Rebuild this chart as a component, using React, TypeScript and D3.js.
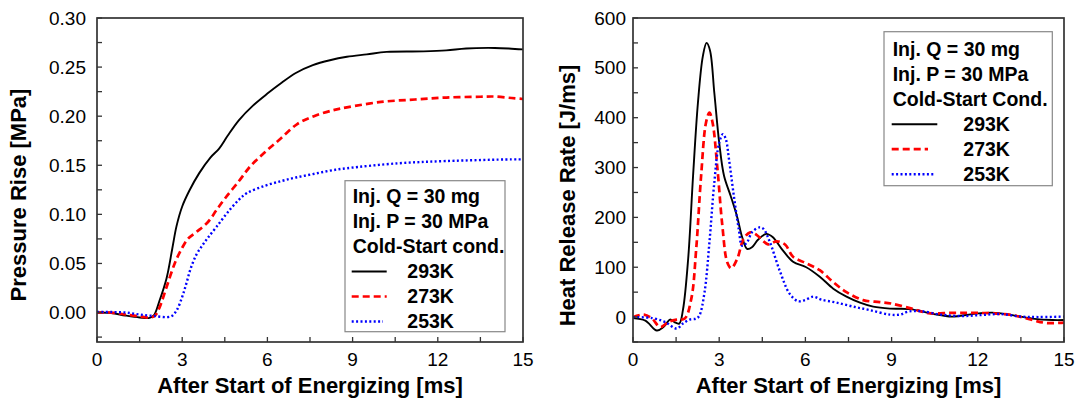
import React from 'react';
import * as d3 from 'd3';

type Pt = [number, number];

const timeTicks = [0, 3, 6, 9, 12, 15];
const timeMinorTicks = [1.5, 4.5, 7.5, 10.5, 13.5];
const pressureTicks = [0, 0.05, 0.1, 0.15, 0.2, 0.25, 0.3];
const pressureMinorTicks = [-0.025, 0.025, 0.075, 0.125, 0.175, 0.225, 0.275];
const hrrTicks = [0, 100, 200, 300, 400, 500, 600];
const hrrMinorTicks = [-50, 50, 150, 250, 350, 450, 550];

const seriesNames = ['293K', '273K', '253K'];
const leftNotes = ['Inj. Q = 30 mg', 'Inj. P = 30 MPa', 'Cold-Start cond.'];
const rightNotes = ['Inj. Q = 30 mg', 'Inj. P = 30 MPa', 'Cold-Start Cond.'];

const pressure293: Pt[] = [
  [0, 0], [0.5, -0.0005], [1.0, -0.003], [1.5, -0.005], [1.85, -0.0055], [2.0, -0.003],
  [2.2, 0.012], [2.45, 0.035], [2.65, 0.065], [2.8, 0.088], [3.0, 0.108], [3.25, 0.124],
  [3.6, 0.142], [4.0, 0.158], [4.3, 0.167], [4.6, 0.18], [5.0, 0.196], [5.5, 0.211],
  [6.0, 0.223], [6.5, 0.234], [7.0, 0.244], [7.6, 0.252], [8.2, 0.257], [8.8, 0.2605],
  [9.5, 0.263], [10.2, 0.2655], [11.5, 0.266], [12.3, 0.267], [13.0, 0.269], [14.0, 0.2695],
  [14.5, 0.269], [15.0, 0.268],
];
const pressure273: Pt[] = [
  [0, 0], [0.5, 0], [1.0, -0.002], [1.5, -0.004], [1.9, -0.005], [2.05, -0.003],
  [2.2, 0.005], [2.45, 0.026], [2.75, 0.051], [3.0, 0.066], [3.2, 0.075], [3.5, 0.082],
  [3.9, 0.092], [4.2, 0.104], [4.5, 0.116], [5.0, 0.134], [5.4, 0.149], [5.9, 0.163],
  [6.46, 0.177], [7.05, 0.192], [7.64, 0.2], [8.3, 0.206], [8.8, 0.209], [10.0, 0.2145],
  [11.2, 0.217], [12.3, 0.219], [13.5, 0.2198], [14.0, 0.22], [14.6, 0.2185], [15.0, 0.2175],
];
const pressure253: Pt[] = [
  [0, 0.0005], [0.5, 0.0005], [1.0, 0], [1.5, -0.002], [2.0, -0.0035], [2.6, -0.004],
  [2.8, 0.002], [3.0, 0.016], [3.15, 0.03], [3.3, 0.045], [3.5, 0.059], [3.7, 0.068],
  [3.9, 0.076], [4.2, 0.087], [4.6, 0.102], [5.0, 0.115], [5.3, 0.122], [5.9, 0.129],
  [6.5, 0.134], [7.0, 0.1375], [7.6, 0.141], [8.2, 0.1445], [8.8, 0.147], [10.6, 0.152],
  [12.3, 0.1543], [14.6, 0.156], [15.0, 0.156],
];

const hrr293: Pt[] = [
  [0, -2], [0.43, -7], [0.83, -27], [1.06, -20], [1.29, -5], [1.44, -10], [1.61, -13],
  [1.74, 15], [1.92, 117], [2.09, 283], [2.26, 430], [2.43, 523], [2.56, 550], [2.68, 535],
  [2.83, 450], [3.0, 350], [3.17, 283], [3.4, 243], [3.63, 200], [3.8, 160], [3.97, 137],
  [4.14, 140], [4.35, 155], [4.64, 167], [4.87, 160], [5.16, 138], [5.57, 111], [6.03, 100],
  [6.5, 81], [6.97, 57], [7.43, 41], [7.9, 29], [8.36, 21], [8.94, 17], [9.64, 16],
  [10.4, 7], [11.1, 1], [11.8, 6], [12.5, 9], [13.2, 4], [13.9, -3], [14.6, -6], [15.0, -6],
];
const hrr273: Pt[] = [
  [0, 0], [0.38, 5], [0.66, -3], [0.95, -20], [1.23, -10], [1.52, -5], [1.8, -3],
  [2.03, 37], [2.2, 137], [2.37, 283], [2.54, 390], [2.66, 410], [2.77, 390], [2.94, 297],
  [3.11, 183], [3.28, 110], [3.42, 98], [3.63, 117], [3.85, 157], [4.08, 170], [4.3, 165],
  [4.7, 146], [5.0, 152], [5.3, 145], [5.57, 121], [6.03, 108], [6.5, 94], [6.97, 70],
  [7.43, 50], [8.01, 34], [8.59, 30], [9.0, 27], [9.7, 17], [10.28, 8], [11.1, 8.5],
  [11.8, 8.5], [12.5, 7.5], [13.2, 4], [13.9, -6], [14.4, -12], [15.0, -11],
];
const hrr253: Pt[] = [
  [0, 0], [0.66, -2], [1.12, -10], [1.52, -23], [1.74, -13], [1.97, -5], [2.2, -3],
  [2.31, 3], [2.49, 50], [2.66, 150], [2.83, 270], [3.0, 350], [3.13, 367], [3.23, 357],
  [3.34, 317], [3.51, 243], [3.68, 177], [3.8, 143], [3.97, 150], [4.14, 170], [4.4, 180],
  [4.54, 177], [4.76, 151], [5.1, 94], [5.45, 47], [5.74, 32], [5.98, 34], [6.27, 41],
  [6.56, 35], [7.08, 29], [7.66, 21], [8.24, 14], [8.94, 5], [9.29, 5], [9.58, 11],
  [10.0, 12], [10.7, 5], [11.4, 2], [12.1, 4], [12.8, 6], [13.5, 1], [14.1, 0], [15.0, 1],
];

const FONT = '"Liberation Sans", Arial, Helvetica, sans-serif';

const lineStyles = [
  { stroke: '#000000', width: 1.9, dash: '' },
  { stroke: '#ff0000', width: 2.7, dash: '7,4' },
  { stroke: '#0000ff', width: 2.4, dash: '2,2.4' },
];

interface PanelProps {
  x0: number; x1: number; y0: number; y1: number;
  yDomain: [number, number];
  yTicks: number[]; yMinor: number[];
  yFmt: (v: number) => string;
  series: Pt[][];
  yTitle: string; yTitleX: number; yTitleY: number;
  labelRight: number;
  legend: { left: number; top: number; right: number; bottom: number; textX: number; base: number; sampleEnds: number[]; nameX: number; notes: string[] };
}

function Panel(p: PanelProps) {
  const x = d3.scaleLinear().domain([0, 15]).range([p.x0, p.x1]);
  const y = d3.scaleLinear().domain(p.yDomain).range([p.y1, p.y0]);
  const line = d3.line<Pt>().x((d) => x(d[0])).y((d) => y(d[1])).curve(d3.curveCatmullRom.alpha(0.5));
  const tl = 5;
  const L = p.legend;
  const pitch = 25;
  return (
    <g>
      <defs>
        <clipPath id={`clip${p.x0}`}>
          <rect x={p.x0} y={p.y0} width={p.x1 - p.x0} height={p.y1 - p.y0} />
        </clipPath>
      </defs>
      <g clipPath={`url(#clip${p.x0})`}>
        {p.series.map((s, i) => (
          <path key={i} d={line(s) || ''} fill="none" stroke={lineStyles[i].stroke}
            strokeWidth={lineStyles[i].width} strokeDasharray={lineStyles[i].dash || undefined} />
        ))}
      </g>
      {timeTicks.concat(timeMinorTicks).map((t) => (
        <line key={'xt' + t} x1={x(t)} x2={x(t)} y1={p.y1} y2={p.y1 - tl} stroke="#333" strokeWidth={1.3} />
      ))}
      {p.yTicks.concat(p.yMinor).map((v) => (
        <line key={'yt' + v} x1={p.x0} x2={p.x0 + tl} y1={y(v)} y2={y(v)} stroke="#333" strokeWidth={1.3} />
      ))}
      <rect x={p.x0} y={p.y0} width={p.x1 - p.x0} height={p.y1 - p.y0} fill="none" stroke="#333" strokeWidth={1.7} />
      {timeTicks.map((t) => (
        <text key={'xl' + t} x={x(t)} y={366} textAnchor="middle" fontSize={19} fontFamily={FONT} fill="#000">{t}</text>
      ))}
      {p.yTicks.map((v) => (
        <text key={'yl' + v} x={p.labelRight} y={y(v)} dy="0.35em" textAnchor="end" fontSize={19} fontFamily={FONT} fill="#000">{p.yFmt(v)}</text>
      ))}
      <text x={(p.x0 + p.x1) / 2} y={393} textAnchor="middle" fontSize={22} fontWeight="bold" fontFamily={FONT} fill="#000">After Start of Energizing [ms]</text>
      <text transform={`translate(${p.yTitleX},${p.yTitleY}) rotate(-90)`} textAnchor="middle" fontSize={22} fontWeight="bold" fontFamily={FONT} fill="#000">{p.yTitle}</text>
      <rect x={L.left} y={L.top} width={L.right - L.left} height={L.bottom - L.top} fill="#fff" stroke="#888" strokeWidth={1.2} />
      {L.notes.map((n, i) => (
        <text key={'n' + i} x={L.textX} y={L.base + i * pitch} fontSize={19.5} fontWeight="bold" fontFamily={FONT} fill="#000">{n}</text>
      ))}
      {seriesNames.map((n, i) => {
        const by = L.base + (i + 3) * pitch;
        return (
          <g key={'s' + n}>
            <line x1={L.textX - 1} x2={L.sampleEnds[i]} y1={by - 6.5} y2={by - 6.5} stroke={lineStyles[i].stroke}
              strokeWidth={lineStyles[i].width} strokeDasharray={lineStyles[i].dash || undefined} />
            <text x={L.nameX} y={by} fontSize={19.5} fontWeight="bold" fontFamily={FONT} fill="#000">{n}</text>
          </g>
        );
      })}
    </g>
  );
}

export default function App() {
  return (
    <svg width={1081} height={404} style={{ position: 'absolute', left: 0, top: 0, background: '#fff' }}>
      <rect x={0} y={0} width={1081} height={404} fill="#fff" />
      <Panel x0={97} x1={523} y0={18} y1={342} yDomain={[-0.03, 0.3]}
        yTicks={pressureTicks} yMinor={pressureMinorTicks} yFmt={(v) => v.toFixed(2)}
        series={[pressure293, pressure273, pressure253]}
        yTitle="Pressure Rise [MPa]" yTitleX={25.5} yTitleY={195} labelRight={86}
        legend={{ left: 345, top: 180.7, right: 505, bottom: 331.7, textX: 352.7, base: 203, sampleEnds: [386.7, 386.7, 383], nameX: 407.3, notes: leftNotes }} />
      <Panel x0={633} x1={1064} y0={18} y1={342} yDomain={[-50, 600]}
        yTicks={hrrTicks} yMinor={hrrMinorTicks} yFmt={(v) => String(v)}
        series={[hrr293, hrr273, hrr253]}
        yTitle="Heat Release Rate [J/ms]" yTitleX={574.5} yTitleY={195.5} labelRight={626}
        legend={{ left: 884, top: 31.7, right: 1052.3, bottom: 185.7, textX: 892.7, base: 55.7, sampleEnds: [937.3, 928, 935], nameX: 963.3, notes: rightNotes }} />
    </svg>
  );
}
